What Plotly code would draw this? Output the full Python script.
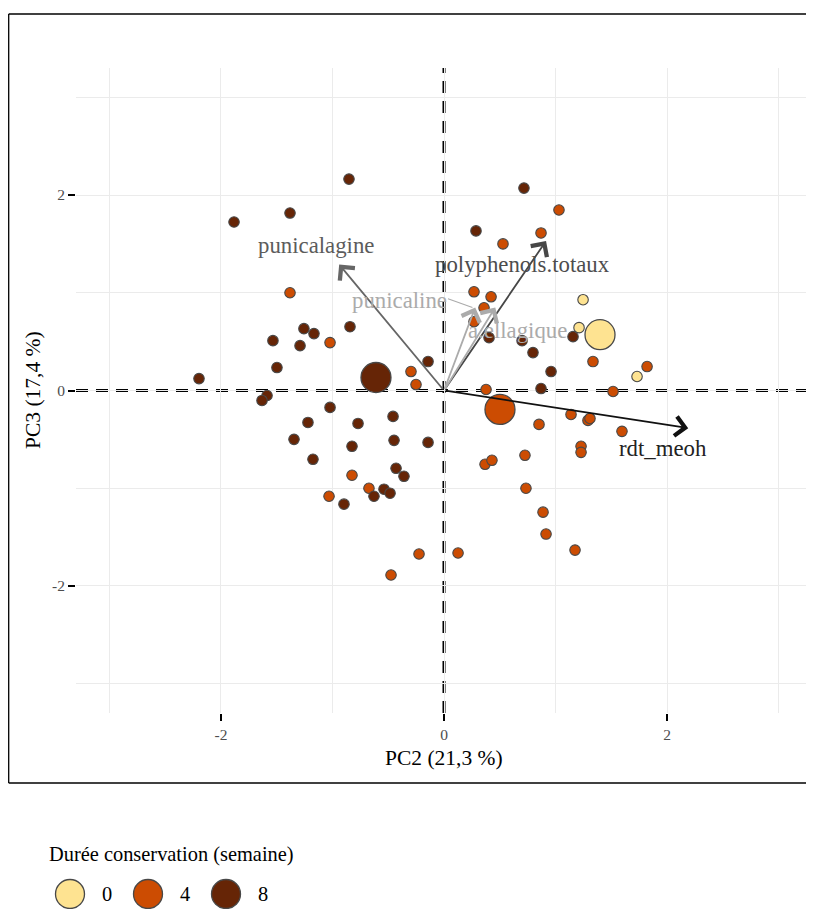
import plotly.graph_objects as go

# ---------------- data ----------------
# individual scores (PC2, PC3) by storage duration (weeks)
pc2_w0 = [1.247, 1.211, 1.731]
pc3_w0 = [0.929, 0.643, 0.143]

pc2_w4 = [-1.381, -1.022, -0.296, -0.251, -0.825, -0.673, -1.031, -0.224, 0.126, -0.475,
          1.031, 0.870, 0.529, 0.269, 0.422, 0.359, 0.269, 1.336, 1.821, 0.377,
          1.516, 1.139, 1.291, 1.309, 0.852, 1.596, 1.229, 1.229, 0.726, 0.368,
          0.430, 0.735, 0.888, 0.915, 1.175]
pc3_w4 = [1.000, 0.490, 0.194, 0.061, -0.867, -1.000, -1.082, -1.673, -1.663, -1.888,
          1.847, 1.612, 1.500, 1.010, 0.959, 0.847, 0.704, 0.296, 0.245, 0.010,
          -0.010, -0.245, -0.306, -0.286, -0.347, -0.418, -0.571, -0.633, -0.663, -0.755,
          -0.714, -1.000, -1.245, -1.469, -1.633]

pc2_w8 = [-0.852, -1.883, -1.381, -0.843, -1.256, -1.166, -1.534, -1.291, -1.498, -2.197,
          -0.143, -1.587, -1.632, -1.022, -0.457, -1.220, -0.771, -1.345, -0.448, -0.143,
          -0.825, -1.175, -0.430, -0.359, -0.538, -0.484, -0.628, -0.897,
          0.717, 0.287, 0.404, 0.700, 0.798, 1.157, 0.960, 0.870]
pc3_w8 = [2.163, 1.724, 1.816, 0.653, 0.633, 0.582, 0.510, 0.459, 0.235, 0.122,
          0.296, -0.051, -0.102, -0.173, -0.265, -0.327, -0.337, -0.500, -0.510, -0.531,
          -0.571, -0.704, -0.796, -0.878, -1.010, -1.051, -1.082, -1.163,
          2.071, 1.633, 0.541, 0.510, 0.388, 0.551, 0.194, 0.020]

# group centroids
groups = ["0", "4", "8"]
centroid_pc2 = [1.399, 0.502, -0.610]
centroid_pc3 = [0.571, -0.194, 0.133]

# variable loadings (arrows)
variables = ["punicalagine", "polyphenols.totaux", "punicaline", "a.ellagique", "rdt_meoh"]
load_pc2 = [-0.94, 0.915, 0.28, 0.46, 2.19]
load_pc3 = [1.29, 1.53, 0.85, 0.85, -0.385]

x_ticks = [-2, 0, 2]
y_ticks = [-2, 0, 2]
x_title = "PC2 (21,3 %)"
y_title = "PC3 (17,4 %)"
legend_title = "Durée conservation (semaine)"

# ---------------- styles ----------------
FONT = "Liberation Serif"
group_colors = {"0": "#FEE391", "4": "#CC4C02", "8": "#662506"}
edge = "rgb(72,72,72)"
arrow_colors = ["#666666", "#474747", "#ababab", "#ababab", "#111111"]
label_colors = ["#5c5c5c", "#4d4d4d", "#ababab", "#ababab", "#222222"]
# repelled label positions (data units)
label_pos = [(-1.148, 1.480), (0.700, 1.286), (-0.395, 0.918), (0.655, 0.612), (1.964, -0.592)]

OFF = 8                      # page body margin
W, H = 814 - OFF, 909 - OFF
# panel in page pixels: x 76..812, y 68..713
L, T = 76 - OFF, 68 - OFF
R = W - (812 - OFF)
B = H - (713 - OFF)
PW, PH = W - L - R, H - T - B


def px(p):  # page pixel -> paper x
    return (p - OFF - L) / PW


def py(p):  # page pixel -> paper y
    return (H - B - (p - OFF)) / PH


fig = go.Figure()

series = [("0", pc2_w0, pc3_w0), ("4", pc2_w4, pc3_w4), ("8", pc2_w8, pc3_w8)]
for g, xs, ys in series:
    fig.add_trace(go.Scatter(
        x=xs, y=ys, mode="markers", name=g, showlegend=False,
        marker=dict(size=10.5, color=group_colors[g], line=dict(color=edge, width=1.1)),
        hoverinfo="skip"))

fig.add_trace(go.Scatter(
    x=centroid_pc2, y=centroid_pc3, mode="markers", showlegend=False,
    marker=dict(size=30, color=[group_colors[g] for g in groups],
                line=dict(color=edge, width=1.3)),
    hoverinfo="skip"))

shapes = []
# dashed axes through origin
shapes.append(dict(type="line", xref="x", yref="paper", x0=0, x1=0, y0=0, y1=1,
                   line=dict(color="black", width=3, dash="12px,8px"), layer="between"))
shapes.append(dict(type="line", xref="paper", yref="y", x0=0, x1=1, y0=0, y1=0,
                   line=dict(color="black", width=3, dash="12px,8px"), layer="between"))
# connector for repelled "punicaline" label
shapes.append(dict(type="line", xref="x", yref="y", x0=0.036, y0=0.939, x1=0.255, y1=0.85,
                   line=dict(color="#ababab", width=1.1), layer="above"))
# outer border (left, top, bottom; right side lies beyond the window)
bx0, bx1, by0, by1 = px(8.7), px(814), py(783), py(14)
for seg in [(bx0, by1, bx1, by1), (bx0, by0, bx0, by1), (bx0, by0, bx1, by0)]:
    shapes.append(dict(type="line", xref="paper", yref="paper",
                       x0=seg[0], y0=seg[1], x1=seg[2], y1=seg[3],
                       line=dict(color="black", width=1.3), layer="above"))

annotations = []
for i, v in enumerate(variables):
    annotations.append(dict(
        x=load_pc2[i], y=load_pc3[i], ax=0, ay=0, xref="x", yref="y", axref="x", ayref="y",
        text="", showarrow=True, arrowhead=4, arrowsize=2.1, arrowwidth=1.8,
        arrowcolor=arrow_colors[i], standoff=0, startstandoff=0))
    lx, ly = label_pos[i]
    annotations.append(dict(
        x=lx, y=ly, xref="x", yref="y", text=v, showarrow=False,
        xanchor="center", yanchor="middle",
        font=dict(family=FONT, size=22.8, color=label_colors[i])))

# axis titles
annotations.append(dict(x=px(444), y=py(758), xref="paper", yref="paper", text=x_title,
                        xanchor="center", yanchor="middle",
                        showarrow=False, font=dict(family=FONT, size=21.5, color="black")))
annotations.append(dict(x=px(33), y=py(390), xref="paper", yref="paper", text=y_title,
                        textangle=-90, showarrow=False, xanchor="center", yanchor="middle",
                        font=dict(family=FONT, size=21.5, color="black")))

# legend (drawn manually to match large key symbols)
annotations.append(dict(x=px(47), y=py(854), xref="paper", yref="paper", text=legend_title,
                        xanchor="left", yanchor="middle", showarrow=False,
                        font=dict(family=FONT, size=20.4, color="black")))
key_cx = [70, 148, 226]
lab_cx = [107, 185, 263]
rad = 14.5
for g, cx, lx in zip(groups, key_cx, lab_cx):
    shapes.append(dict(type="circle", xref="paper", yref="paper",
                       x0=px(cx - rad), x1=px(cx + rad), y0=py(894 + rad), y1=py(894 - rad),
                       fillcolor=group_colors[g], line=dict(color=edge, width=1.3), layer="above"))
    annotations.append(dict(x=px(lx), y=py(894), xref="paper", yref="paper", text=g,
                            xanchor="center", yanchor="middle",
                            showarrow=False, font=dict(family=FONT, size=20.4, color="black")))

grid = "#ebebeb"
fig.update_layout(
    width=W, height=H, margin=dict(l=L, r=R, t=T, b=B, autoexpand=False),
    paper_bgcolor="white", plot_bgcolor="white",
    shapes=shapes, annotations=annotations, showlegend=False,
    font=dict(family=FONT),
    xaxis=dict(range=[-3.3, 3.3], tickvals=x_ticks, ticktext=[str(t) for t in x_ticks],
               showgrid=True, gridcolor=grid, gridwidth=1.2, zeroline=False,
               ticks="outside", ticklen=7, tickwidth=2, tickcolor="black",
               tickfont=dict(family=FONT, size=15.5, color="#4d4d4d"),
               minor=dict(tickvals=[-3, -1, 1, 3], showgrid=True, gridcolor=grid, gridwidth=1.2),
               showline=False, fixedrange=True),
    yaxis=dict(range=[-3.3, 3.3], tickvals=y_ticks, ticktext=[str(t) for t in y_ticks],
               showgrid=True, gridcolor=grid, gridwidth=1.2, zeroline=False,
               ticks="outside", ticklen=7, tickwidth=2, tickcolor="black",
               tickfont=dict(family=FONT, size=15.5, color="#4d4d4d"),
               minor=dict(tickvals=[-3, -1, 1, 3], showgrid=True, gridcolor=grid, gridwidth=1.2),
               showline=False, fixedrange=True),
)

fig.write_html("out.html",
               post_script="document.documentElement.style.overflow='hidden';")
